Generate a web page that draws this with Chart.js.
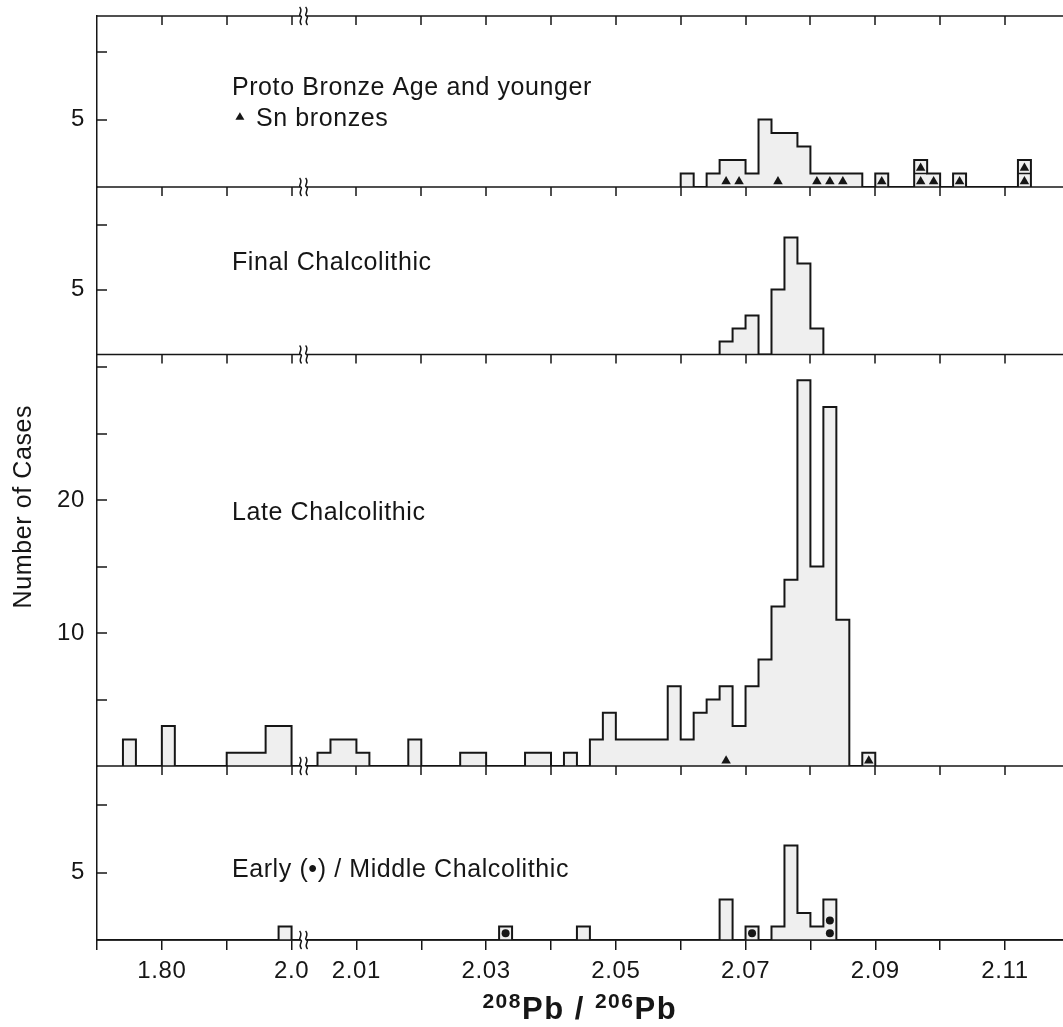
<!DOCTYPE html>
<html>
<head>
<meta charset="utf-8">
<script src="https://cdn.jsdelivr.net/npm/chart.js@4/dist/chart.umd.min.js"></script>
<style>
  html, body { margin: 0; padding: 0; background: #fff; overflow: hidden; }
  .contenitore { width: 1063px; height: 1027px; overflow: hidden; }
  #grafico { display: block; }
</style>
</head>
<body>
<div class="contenitore">
<canvas id="grafico" width="1068" height="1027"></canvas>
</div>
<script>
// histogram bins: left edge of each bin (208Pb/206Pb) and number of cases
// bin width is 0.002 right of the axis break, 0.02 left of it
const protoBins = [2.060, 2.064, 2.066, 2.068, 2.070, 2.072, 2.074, 2.076, 2.078, 2.080, 2.082, 2.084, 2.086, 2.090, 2.096, 2.098, 2.102, 2.112];
const protoCounts = [1, 1, 2, 2, 1, 5, 4, 4, 3, 1, 1, 1, 1, 1, 2, 1, 1, 2];

const finalBins = [2.066, 2.068, 2.070, 2.074, 2.076, 2.078, 2.080];
const finalCounts = [1, 2, 3, 5, 9, 7, 2];

const lateBins = [1.74, 1.80, 1.90, 1.92, 1.94, 1.96, 1.98, 2.004, 2.006, 2.008, 2.010, 2.018, 2.026, 2.028, 2.036, 2.038, 2.042,
  2.046, 2.048, 2.050, 2.052, 2.054, 2.056, 2.058, 2.060, 2.062, 2.064, 2.066, 2.068, 2.070, 2.072, 2.074, 2.076, 2.078, 2.080, 2.082, 2.084, 2.088];
const lateCounts = [2, 3, 1, 1, 1, 3, 3, 1, 2, 2, 1, 2, 1, 1, 1, 1, 1,
  2, 4, 2, 2, 2, 2, 6, 2, 4, 5, 6, 3, 6, 8, 12, 14, 29, 15, 27, 11, 1];

const earlyBins = [1.98, 2.032, 2.044, 2.066, 2.070, 2.074, 2.076, 2.078, 2.080, 2.082];
const earlyCounts = [1, 1, 1, 3, 1, 1, 7, 2, 1, 3];

// Sn bronzes (triangles) and Early Chalcolithic (dots)
const protoSnRatio = [2.067, 2.069, 2.075, 2.081, 2.083, 2.085, 2.091, 2.097, 2.097, 2.099, 2.103, 2.113, 2.113];
const protoSnLevel = [0.4, 0.4, 0.4, 0.4, 0.4, 0.4, 0.4, 0.4, 1.4, 0.4, 0.4, 0.4, 1.4];
const lateSnRatio = [2.067, 2.089];
const lateSnLevel = [0.4, 0.4];
const earlyDotRatio = [2.033, 2.071, 2.083, 2.083];
const earlyDotLevel = [0.5, 0.5, 0.5, 1.45];

// single cases stacked in one bin
const protoSplitBins = [2.096, 2.112];

// axes
const xTickRatios = [1.80, 2.0, 2.01, 2.03, 2.05, 2.07, 2.09, 2.11];
const xTickLabels = ['1.80', '2.0', '2.01', '2.03', '2.05', '2.07', '2.09', '2.11'];
const protoYLabels = [5];
const finalYLabels = [5];
const lateYLabels = [10, 20];
const earlyYLabels = [5];

const panelNames = ['Proto Bronze Age and younger', 'Final Chalcolithic', 'Late Chalcolithic', 'Early (\u2022) / Middle Chalcolithic'];

const ink = '#161616';
const fillGrey = '#efefef';
const font = "'Liberation Sans', Arial, Helvetica, sans-serif";
const binStep = 0.2;
const breakAt = 0.185;

// 0.1 per tick left of the break, 0.01 per tick right of it
function toAxis(v) {
    return v <= 2.0 ? (v - 2.0) * 10 : (v - 2.0) * 100;
}

function stepPoints(bins, counts) {
    const perBin = new Map();
    bins.forEach((b, i) => perBin.set(Math.round(toAxis(b) / binStep), counts[i]));
    const keys = [...perBin.keys()];
    const first = Math.min(...keys);
    const last = Math.max(...keys);
    const punti = [{ x: first * binStep, y: 0 }];
    for (let k = first; k <= last + 1; k++) {
        punti.push({ x: k * binStep, y: perBin.get(k) || 0 });
    }
    return punti;
}

function histogram(bins, counts, axis) {
    return {
        data: stepPoints(bins, counts),
        yAxisID: axis,
        stepped: true,
        fill: 'origin',
        backgroundColor: fillGrey,
        borderColor: ink,
        borderWidth: 2,
        pointRadius: 0,
        order: 3
    };
}

function markers(ratios, levels, axis, style, radius) {
    return {
        data: ratios.map((r, i) => ({ x: toAxis(r), y: levels[i] })),
        yAxisID: axis,
        showLine: false,
        pointStyle: style,
        pointRadius: radius,
        pointBackgroundColor: ink,
        pointBorderWidth: 0,
        order: 1
    };
}

function dividers(bins, axis) {
    const punti = [];
    bins.forEach(b => {
        punti.push({ x: toAxis(b), y: 1 }, { x: toAxis(b) + binStep, y: 1 }, { x: toAxis(b) + binStep, y: null });
    });
    return {
        data: punti,
        yAxisID: axis,
        borderColor: ink,
        borderWidth: 1.5,
        pointRadius: 0,
        spanGaps: false,
        order: 2
    };
}

function noPadding(s) {
    s.paddingTop = 0;
    s.paddingBottom = 0;
    s.paddingLeft = 0;
    s.paddingRight = 0;
}

function panelAxis(stackWeight, max, labelled, weight) {
    return {
        type: 'linear',
        position: 'left',
        stack: 'panels',
        stackWeight: stackWeight,
        weight: weight,
        min: 0,
        max: max,
        border: { display: true, color: ink, width: 1.5 },
        grid: { display: false, drawTicks: false },
        ticks: {
            stepSize: 5,
            includeBounds: false,
            color: ink,
            padding: 12,
            font: { family: font, size: 24 },
            callback: v => labelled.includes(v) ? String(v) : ''
        },
        afterFit: s => { s.width = 97; noPadding(s); }
    };
}

function squiggle(ctx, x, y) {
    ctx.beginPath();
    ctx.moveTo(x - 1, y - 9);
    ctx.bezierCurveTo(x + 3, y - 5, x - 3, y - 1, x, y);
    ctx.bezierCurveTo(x + 3, y + 1, x - 3, y + 5, x + 1, y + 9);
    ctx.stroke();
}

function spacedText(ctx, text, x, y, size, weight, spacing) {
    ctx.font = `${weight} ${size}px ${font}`;
    ctx.letterSpacing = spacing + 'px';
    ctx.fillText(text, x, y);
    return ctx.measureText(text).width;
}

const cornice = {
    id: 'cornice',
    beforeDraw(chart) {
        chart.ctx.letterSpacing = '0.6px';
    },
    afterDatasetsDraw(chart) {
        const ctx = chart.ctx;
        const sx = chart.scales.x;
        const area = chart.chartArea;
        const ids = ['yProto', 'yFinal', 'yLate', 'yEarly'];
        const bx = sx.getPixelForValue(breakAt);

        ctx.save();
        ctx.strokeStyle = ink;
        ctx.lineWidth = 1.5;

        const lines = [chart.scales.yProto.top].concat(ids.map(id => chart.scales[id].bottom));
        lines.forEach((yy, n) => {
            ctx.beginPath();
            ctx.moveTo(area.left, yy);
            ctx.lineTo(area.right + 5, yy);
            ctx.stroke();
            if (n < lines.length - 1) {
                sx.ticks.forEach(t => {
                    const px = Math.round(sx.getPixelForValue(t.value));
                    if (px <= area.left + 1) return;
                    ctx.beginPath();
                    ctx.moveTo(px, yy);
                    ctx.lineTo(px, yy + 9);
                    ctx.stroke();
                });
            }
            ctx.fillStyle = '#fff';
            ctx.fillRect(bx - 3, yy - 2, 6, 4);
            squiggle(ctx, bx - 3, yy);
            squiggle(ctx, bx + 3, yy);
        });

        // inward ticks on the count axes
        ids.forEach(id => {
            const s = chart.scales[id];
            s.ticks.forEach(t => {
                if (t.value <= 0) return;
                const py = Math.round(s.getPixelForValue(t.value));
                ctx.beginPath();
                ctx.moveTo(area.left, py);
                ctx.lineTo(area.left + 10, py);
                ctx.stroke();
            });
        });

        // panel names
        ctx.fillStyle = ink;
        ctx.textAlign = 'left';
        ctx.textBaseline = 'alphabetic';
        const lx = sx.getPixelForValue(toAxis(1.908));
        spacedText(ctx, panelNames[0], lx, chart.scales.yProto.getPixelForValue(6.8), 25, 'normal', 0.6);
        spacedText(ctx, 'Sn bronzes', lx + 24, chart.scales.yProto.getPixelForValue(4.5), 25, 'normal', 0.6);
        const ty = chart.scales.yProto.getPixelForValue(5.2);
        ctx.beginPath();
        ctx.moveTo(lx + 8, ty - 4.5);
        ctx.lineTo(lx + 12.5, ty + 3);
        ctx.lineTo(lx + 3.5, ty + 3);
        ctx.closePath();
        ctx.fill();
        spacedText(ctx, panelNames[1], lx, chart.scales.yFinal.getPixelForValue(6.5), 25, 'normal', 0.6);
        spacedText(ctx, panelNames[2], lx, chart.scales.yLate.getPixelForValue(18.5), 25, 'normal', 0.6);
        spacedText(ctx, panelNames[3], lx, chart.scales.yEarly.getPixelForValue(4.67), 25, 'normal', 0.6);

        // y title
        ctx.save();
        ctx.translate(24, chart.scales.yLate.getPixelForValue(19.5));
        ctx.rotate(-Math.PI / 2);
        ctx.textAlign = 'center';
        ctx.textBaseline = 'middle';
        spacedText(ctx, 'Number of Cases', 0, 0, 25, 'normal', 0.6);
        ctx.restore();

        // x title with superscript mass numbers
        const parts = [['208', 21, -11], ['Pb / ', 31, 0], ['206', 21, -11], ['Pb', 31, 0]];
        let total = 0;
        parts.forEach(p => {
            ctx.font = `bold ${p[1]}px ${font}`;
            ctx.letterSpacing = '1.5px';
            total += ctx.measureText(p[0]).width;
        });
        let cx = (area.left + area.right) / 2 - total / 2;
        const base = 1019;
        parts.forEach(p => {
            cx += spacedText(ctx, p[0], cx, base + p[2], p[1], 'bold', 1.5);
        });
        ctx.restore();
    }
};

const config = {
    type: 'line',
    data: {
        datasets: [
            histogram(protoBins, protoCounts, 'yProto'),
            histogram(finalBins, finalCounts, 'yFinal'),
            histogram(lateBins, lateCounts, 'yLate'),
            histogram(earlyBins, earlyCounts, 'yEarly'),
            dividers(protoSplitBins, 'yProto'),
            markers(protoSnRatio, protoSnLevel, 'yProto', 'triangle', 5.5),
            markers(lateSnRatio, lateSnLevel, 'yLate', 'triangle', 5.5),
            markers(earlyDotRatio, earlyDotLevel, 'yEarly', 'circle', 4)
        ]
    },
    options: {
        responsive: false,
        animation: false,
        layout: { padding: { top: 16, left: 0, right: 0, bottom: 0 } },
        plugins: {
            legend: { display: false },
            tooltip: { enabled: false }
        },
        scales: {
            x: {
                type: 'linear',
                min: -3,
                max: 11.887,
                border: { display: true, color: ink, width: 1.5 },
                grid: { drawOnChartArea: false, drawTicks: true, tickLength: 10, color: ink, lineWidth: 1.5 },
                ticks: {
                    stepSize: 1,
                    autoSkip: false,
                    maxRotation: 0,
                    includeBounds: false,
                    color: ink,
                    padding: 7,
                    font: { family: font, size: 24 },
                    callback: v => {
                        const i = xTickRatios.findIndex(r => Math.abs(toAxis(r) - v) < 1e-6);
                        return i < 0 ? '' : xTickLabels[i];
                    }
                },
                afterFit: s => { s.height = 87; noPadding(s); }
            },
            yProto: panelAxis(171, 12.667, protoYLabels, 4),
            yFinal: panelAxis(167.5, 12.885, finalYLabels, 3),
            yLate: panelAxis(411.5, 30.94, lateYLabels, 2),
            yEarly: panelAxis(174, 12.889, earlyYLabels, 1)
        }
    },
    plugins: [cornice]
};

new Chart(document.getElementById('grafico').getContext('2d'), config);
</script>
</body>
</html>
